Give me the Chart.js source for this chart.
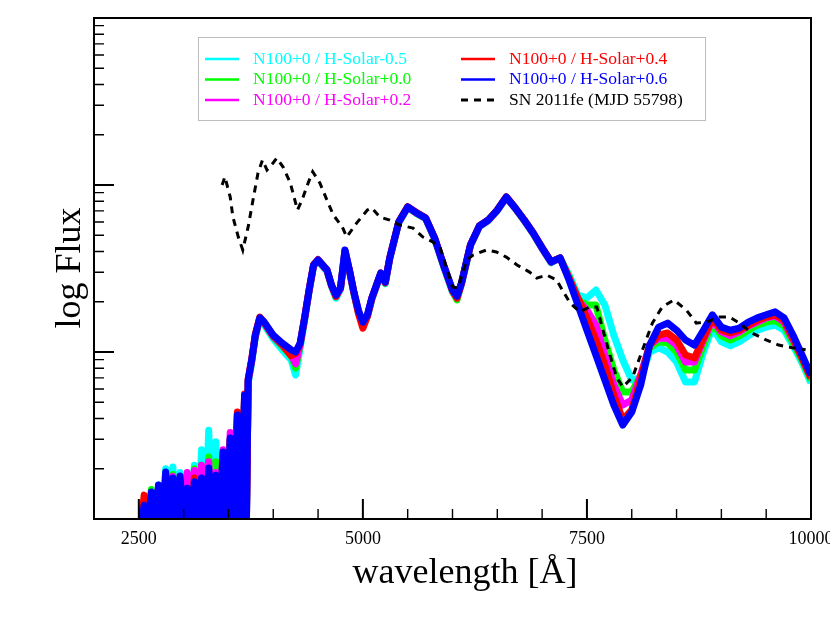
<!DOCTYPE html>
<html lang="en">
<head>
    <meta charset="UTF-8">
    <title>N100+0 spectra vs SN 2011fe</title>
    <style>
        html, body {
            margin: 0;
            padding: 0;
            background: #fff;
            overflow: hidden;
        }
        #chart-container {
            width: 830px;
            height: 642px;
        }
    </style>
    <script src="https://cdn.jsdelivr.net/npm/chart.js"></script>
</head>
<body>

    <div id="chart-container">
        <canvas id="spectrumChart" width="830" height="642"></canvas>
    </div>

    <script>
        // wavelength grid of the model spectra (Angstrom)
        var wave = [2520, 2560, 2600, 2640, 2680, 2720, 2760, 2800, 2840, 2880, 2920, 2960, 3000, 3040, 3080, 3120,
            3160, 3200, 3240, 3280, 3320, 3360, 3400, 3440, 3480, 3520, 3560, 3600, 3640, 3680, 3700,
            3720, 3760, 3800, 3850, 3900, 4000, 4100, 4200, 4250, 4300, 4350, 4400, 4450, 4500,
            4600, 4650, 4700, 4750, 4800, 4850, 4900, 4950, 5000, 5050, 5100,
            5200, 5250, 5300, 5400, 5500, 5600, 5700, 5800, 5900, 6000, 6050, 6100,
            6200, 6300, 6400, 6500, 6600, 6700, 6800, 6900, 7000, 7100, 7200,
            7300, 7400, 7500, 7600, 7700, 7800, 7900, 8000, 8100, 8200, 8300, 8400, 8500, 8600,
            8700, 8800, 8900, 9000, 9100, 9200, 9300, 9400, 9500, 9600, 9700, 9800, 9900, 10000];

        // N100+0 / H-Solar-0.5
        var fluxM05 = [0.9, 1.1, 0.9, 1.3, 0.9, 1.6, 0.9, 2.0, 0.9, 2.05, 0.9, 1.9, 0.9, 1.85, 0.9, 2.1,
            0.9, 2.6, 0.9, 3.4, 0.9, 2.9, 0.9, 2.4, 0.9, 2.9, 0.9, 3.9, 0.9, 5.0, 0.9,
            6.5, 8.7, 12.3, 15.6, 14.5, 12.0, 10.3, 8.96, 7.28, 10.6, 15.4, 23.0, 32.5, 35.0,
            30.4, 24.6, 21.0, 23.6, 40.0, 30.4, 22.2, 17.3, 14.6, 16.2, 20.6,
            29.2, 25.6, 36.0, 59.3, 73.2, 67.3, 62.8, 47.6, 32.5, 22.8, 21.0, 25.3,
            43.2, 56.2, 61.1, 70.2, 84.0, 72.2, 61.1, 51.0, 41.5, 34.2, 36.6,
            28.9, 21.9, 21.1, 23.5, 19.1, 12.6, 8.96, 6.8, 6.99, 10.0, 10.6, 10.0, 8.71, 6.61,
            6.61, 10.0, 13.9, 11.5, 10.9, 11.5, 12.5, 13.5, 14.1, 14.5, 13.5, 10.9, 8.6, 6.52];

        // N100+0 / H-Solar+0.0
        var fluxP00 = [0.9, 1.1, 0.9, 1.5, 0.9, 1.45, 0.9, 1.7, 0.9, 1.85, 0.9, 1.75, 0.9, 1.6, 0.9, 2.0,
            0.9, 2.1, 0.9, 2.35, 0.9, 2.2, 0.9, 2.5, 0.9, 3.0, 0.9, 4.1, 0.9, 5.3, 0.9,
            6.6, 8.8, 12.4, 15.8, 14.8, 12.3, 10.8, 9.5, 8.0, 10.9, 15.7, 23.2, 32.9, 35.3,
            30.7, 24.9, 21.4, 23.9, 40.4, 30.7, 22.5, 17.5, 14.5, 16.4, 20.8,
            29.4, 25.9, 36.3, 59.6, 73.5, 67.6, 63.1, 47.9, 32.9, 23.1, 20.5, 25.6,
            43.4, 56.5, 61.4, 70.5, 84.3, 72.5, 61.4, 51.3, 41.7, 34.4, 36.6,
            28.5, 20.5, 19.1, 19.1, 11.8, 7.8, 5.76, 5.76, 7.28, 10.6, 11.5, 11.3, 10.0, 7.8,
            7.8, 11.0, 14.9, 12.5, 11.8, 12.5, 13.5, 14.5, 15.1, 15.5, 14.3, 11.3, 8.96, 6.8];

        // N100+0 / H-Solar+0.2
        var fluxP02 = [0.9, 1.2, 0.9, 1.35, 0.9, 1.55, 0.9, 1.75, 0.9, 1.8, 0.9, 1.7, 0.9, 1.9, 0.9, 1.95,
            0.9, 2.1, 0.9, 2.2, 0.9, 1.9, 0.9, 2.6, 0.9, 3.3, 0.9, 4.3, 0.9, 5.4, 0.9,
            6.7, 8.9, 12.5, 15.9, 14.9, 12.4, 11.0, 9.6, 8.5, 11.1, 15.8, 23.3, 33.0, 35.4,
            30.8, 25.0, 21.6, 24.0, 40.6, 30.8, 22.6, 17.6, 14.3, 16.5, 20.9,
            29.5, 26.0, 36.4, 59.8, 73.7, 67.8, 63.2, 48.0, 33.0, 23.3, 21.3, 25.7,
            43.5, 56.6, 61.5, 70.6, 84.5, 72.6, 61.5, 51.4, 41.8, 34.5, 36.6,
            27.7, 20.5, 17.8, 14.5, 9.6, 6.35, 4.81, 5.16, 7.28, 11.0, 12.1, 12.1, 11.0, 8.71,
            8.71, 11.8, 15.5, 13.2, 12.5, 13.2, 14.3, 15.1, 16.0, 16.4, 15.1, 11.8, 9.2, 6.99];

        // N100+0 / H-Solar+0.4
        var fluxP04 = [0.9, 1.39, 0.9, 1.30, 0.9, 1.49, 0.9, 1.71, 0.9, 1.60, 0.9, 1.67, 0.9, 1.39, 0.9, 1.76,
            0.9, 1.49, 0.9, 1.97, 0.9, 1.71, 0.9, 2.42, 0.9, 2.97, 0.9, 4.37, 0.9, 5.6, 0.9,
            6.9, 9.1, 12.8, 16.2, 15.0, 12.5, 11.1, 9.5, 9.8, 11.2, 16.1, 23.6, 33.4, 35.8,
            30.9, 25.1, 21.5, 24.1, 38.1, 30.9, 22.7, 17.0, 13.9, 16.3, 21.0,
            29.8, 26.0, 36.8, 60.3, 74.2, 68.3, 63.6, 48.4, 33.3, 23.2, 21.0, 25.8,
            43.9, 57.0, 61.9, 71.0, 85.0, 73.0, 61.9, 51.8, 42.2, 34.8, 36.6,
            27.7, 21.1, 16.0, 11.8, 8.36, 5.53, 3.92, 4.50, 6.99, 11.0, 12.6, 13.0, 11.8, 9.6,
            9.2, 12.1, 16.0, 13.5, 13.0, 13.5, 14.5, 15.5, 16.2, 16.7, 15.5, 12.1, 9.2, 6.99];

        // N100+0 / H-Solar+0.6
        var fluxP06 = [0.9, 1.21, 0.9, 1.45, 0.9, 1.60, 0.9, 1.91, 0.9, 1.76, 0.9, 1.81, 0.9, 1.53, 0.9, 1.67,
            0.9, 1.76, 0.9, 2.02, 0.9, 1.83, 0.9, 2.52, 0.9, 3.06, 0.9, 4.2, 0.9, 5.5, 0.9,
            6.8, 8.96, 12.6, 16.0, 15.1, 12.6, 11.3, 10.3, 10.0, 11.3, 16.0, 23.5, 33.2, 35.6,
            31.0, 25.2, 21.9, 24.2, 40.8, 31.0, 22.9, 17.8, 15.1, 16.7, 21.1,
            29.7, 26.2, 36.6, 60.0, 73.9, 68.0, 63.4, 48.2, 33.2, 23.5, 21.6, 25.9,
            43.7, 56.8, 61.7, 70.8, 84.7, 72.8, 61.7, 51.6, 42.0, 34.6, 36.6,
            27.0, 19.1, 13.5, 9.6, 6.8, 4.81, 3.65, 4.37, 6.35, 11.0, 14.1, 14.9, 13.5, 11.8,
            11.0, 13.5, 16.7, 14.1, 13.5, 13.9, 15.1, 16.0, 16.7, 17.4, 16.0, 12.6, 9.6, 7.28];

        // SN 2011fe (MJD 55798)
        var snWave = [3430, 3460, 3520, 3550, 3610, 3660, 3720, 3780, 3830, 3880,
            3930, 4000, 4040, 4110, 4190, 4270, 4320, 4390, 4440, 4520,
            4600, 4670, 4770, 4820, 4930, 5050, 5100, 5190, 5300, 5410,
            5560, 5670, 5780, 5860, 5940, 6000, 6060, 6160, 6230, 6380,
            6490, 6600, 6720, 6860, 6940, 7050, 7160, 7310, 7420, 7530,
            7610, 7670, 7750, 7830, 7900, 8010, 8120, 8230, 8340, 8470,
            8610, 8720, 8830, 8980, 9090, 9200, 9340, 9500, 9640, 9790, 9940];
        var snFlux = [100, 112, 84.7, 64.3, 48.8, 40.8, 56.1, 84.7, 118, 141,
            123, 136, 145, 128, 103, 70.8, 81.0, 103, 120, 103,
            81.0, 66.2, 56.1, 48.8, 59.1, 70.8, 72.8, 64.3, 61.7, 57.6,
            55.2, 48.8, 45.6, 42.5, 31.0, 24.5, 24.2, 35.6, 38.1, 40.8,
            39.7, 37.0, 33.2, 30.1, 27.7, 28.9, 27.0, 19.7, 17.4, 18.6,
            18.6, 14.1, 9.86, 7.08, 6.17, 7.08, 10.3, 14.9, 18.6, 20.5,
            17.8, 14.9, 15.1, 16.2, 16.2, 14.9, 13.0, 11.8, 11.0, 10.6, 10.3];

        var seriesLabels = ['N100+0 / H-Solar-0.5', 'N100+0 / H-Solar+0.0', 'N100+0 / H-Solar+0.2',
            'N100+0 / H-Solar+0.4', 'N100+0 / H-Solar+0.6', 'SN 2011fe (MJD 55798)'];

        // axis ticks
        var xMajor = [2500, 5000, 7500, 10000];
        var xMinor = [3000, 3500, 4000, 4500, 5500, 6000, 6500, 7000, 8000, 8500, 9000, 9500];
        var yMajor = [10, 100];
        var yMinor = [2, 3, 4, 5, 6, 7, 8, 9, 20, 30, 40, 50, 60, 70, 80, 90, 200, 300, 400, 500, 600, 700, 800, 900];

        function toPoints(xs, ys) {
            return xs.map(function (x, i) { return { x: x, y: ys[i] }; });
        }

        function modelSet(label, flux, color, order) {
            return {
                label: label,
                data: toPoints(wave, flux),
                borderColor: color,
                borderWidth: 7,
                borderJoinStyle: 'round',
                pointRadius: 0,
                fill: false,
                tension: 0,
                clip: 0,
                order: order
            };
        }

        var serif = 'Liberation Serif';

        // ticks pointing inward + black frame around the plot
        var frameTicks = {
            id: 'frameTicks',
            afterDraw: function (chart) {
                var ctx = chart.ctx, a = chart.chartArea;
                var xs = chart.scales.x, ys = chart.scales.y;
                ctx.save();
                ctx.strokeStyle = '#000';
                ctx.lineWidth = 2;
                ctx.beginPath();
                xMajor.forEach(function (v) {
                    if (v >= xs.max) return;
                    var px = xs.getPixelForValue(v);
                    ctx.moveTo(px, a.bottom); ctx.lineTo(px, a.bottom - 20);
                });
                yMajor.forEach(function (v) {
                    var py = ys.getPixelForValue(v);
                    ctx.moveTo(a.left, py); ctx.lineTo(a.left + 20, py);
                });
                ctx.stroke();
                ctx.lineWidth = 1.4;
                ctx.beginPath();
                xMinor.forEach(function (v) {
                    var px = xs.getPixelForValue(v);
                    ctx.moveTo(px, a.bottom); ctx.lineTo(px, a.bottom - 10);
                });
                yMinor.forEach(function (v) {
                    var py = ys.getPixelForValue(v);
                    ctx.moveTo(a.left, py); ctx.lineTo(a.left + 10, py);
                });
                ctx.stroke();
                ctx.lineWidth = 2;
                ctx.strokeRect(a.left, a.top, a.right - a.left, a.bottom - a.top);

                // axis titles
                ctx.fillStyle = '#000';
                ctx.font = '36px "' + serif + '"';
                ctx.textAlign = 'center';
                ctx.textBaseline = 'alphabetic';
                ctx.fillText('wavelength [Å]', 465, 583);
                ctx.translate(80, 268);
                ctx.rotate(-Math.PI / 2);
                ctx.fillText('log Flux', 0, 0);
                ctx.restore();
            }
        };

        // two column legend in a grey box
        var boxLegend = {
            id: 'boxLegend',
            afterDraw: function (chart) {
                var ctx = chart.ctx;
                ctx.save();
                ctx.fillStyle = '#fff';
                ctx.fillRect(198.5, 37.5, 507, 83);
                ctx.strokeStyle = '#bdbdbd';
                ctx.lineWidth = 1;
                ctx.strokeRect(198.5, 37.5, 507, 83);
                ctx.font = '17.5px "' + serif + '"';
                ctx.textAlign = 'left';
                ctx.textBaseline = 'middle';
                chart.data.datasets.forEach(function (ds, i) {
                    var col = Math.floor(i / 3), row = i % 3;
                    var x0 = col === 0 ? 205 : 461;
                    var y0 = 59 + row * 20.5;
                    ctx.strokeStyle = ds.borderColor;
                    ctx.lineWidth = ds.borderDash ? 3 : 2.5;
                    ctx.setLineDash(ds.borderDash || []);
                    ctx.beginPath();
                    ctx.moveTo(x0, y0);
                    ctx.lineTo(x0 + 34, y0);
                    ctx.stroke();
                    ctx.setLineDash([]);
                    ctx.fillStyle = ds.borderColor;
                    ctx.fillText(ds.label, x0 + 48, y0);
                });
                ctx.restore();
            }
        };

        var ctx = document.getElementById('spectrumChart').getContext('2d');
        var spectrumChart = new Chart(ctx, {
            type: 'line',
            data: {
                datasets: [
                    modelSet(seriesLabels[0], fluxM05, '#00ffff', 5),
                    modelSet(seriesLabels[1], fluxP00, '#00ff00', 4),
                    modelSet(seriesLabels[2], fluxP02, '#ff00ff', 3),
                    modelSet(seriesLabels[3], fluxP04, '#ff0000', 2),
                    modelSet(seriesLabels[4], fluxP06, '#0000ff', 1),
                    {
                        label: seriesLabels[5],
                        data: toPoints(snWave, snFlux),
                        borderColor: '#000000',
                        borderWidth: 3,
                        borderDash: [7, 6],
                        pointRadius: 0,
                        fill: false,
                        tension: 0,
                        clip: 0,
                        order: 0
                    }
                ]
            },
            options: {
                responsive: false,
                animation: false,
                events: [],
                layout: {
                    autoPadding: false,
                    padding: { left: 94, right: 19, top: 18, bottom: 93 }
                },
                plugins: {
                    legend: { display: false },
                    tooltip: { enabled: false }
                },
                scales: {
                    x: {
                        type: 'linear',
                        min: 2000,
                        max: 10000,
                        afterBuildTicks: function (s) {
                            s.ticks = xMajor.map(function (v) { return { value: v }; });
                        },
                        afterFit: function (s) {
                            s.height = 30;
                            s.paddingLeft = 0;
                            s.paddingRight = 0;
                        },
                        grid: { display: false, drawTicks: false },
                        border: { display: false },
                        ticks: {
                            color: '#000',
                            font: { family: serif, size: 18 },
                            padding: 9,
                            maxRotation: 0,
                            autoSkip: false,
                            callback: function (v) { return String(v); }
                        }
                    },
                    y: {
                        type: 'logarithmic',
                        min: 1,
                        max: 1000,
                        afterFit: function (s) {
                            s.width = 0;
                            s.paddingTop = 0;
                            s.paddingBottom = 0;
                        },
                        grid: { display: false, drawTicks: false },
                        border: { display: false },
                        ticks: { display: false }
                    }
                }
            },
            plugins: [frameTicks, boxLegend]
        });
    </script>

</body>
</html>
